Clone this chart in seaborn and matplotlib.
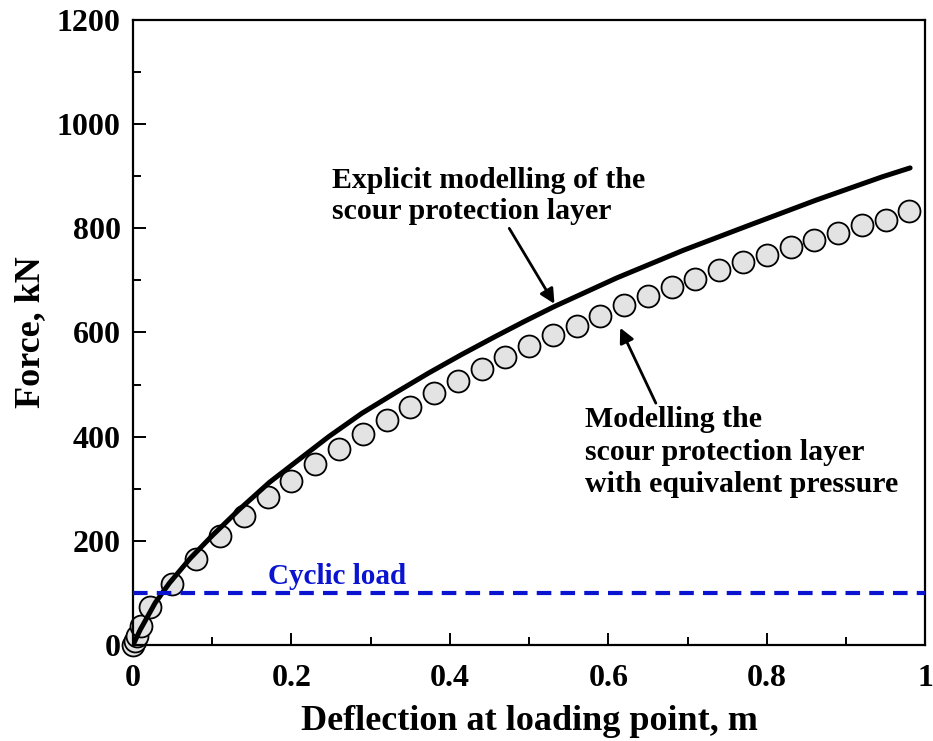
import matplotlib
matplotlib.use("Agg")
import matplotlib.pyplot as plt
import seaborn as sns
import pandas as pd

# Explicit modelling curve
explicit_x = [0, 0.009, 0.028, 0.046, 0.072, 0.10, 0.134, 0.172, 0.206, 0.247,
              0.289, 0.331, 0.373, 0.414, 0.457, 0.495, 0.532, 0.611, 0.695,
              0.778, 0.862, 0.946, 0.981]
explicit_y = [0, 29, 81, 119, 166, 210, 260, 312, 352, 400,
              445, 484, 522, 557, 592, 622, 650, 705, 758,
              806, 854, 899, 916]

# Equivalent pressure model (circles)
equiv_x = [0, 0.002, 0.005, 0.01, 0.022, 0.049, 0.079, 0.11, 0.14, 0.17,
           0.2, 0.23, 0.26, 0.29, 0.32, 0.35, 0.38, 0.41, 0.44, 0.47,
           0.5, 0.53, 0.56, 0.59, 0.62, 0.65, 0.68, 0.71, 0.74, 0.77,
           0.8, 0.83, 0.86, 0.89, 0.92, 0.95, 0.98]
equiv_y = [0, 8, 18, 36, 72, 118, 166, 209, 248, 285,
           315, 348, 376, 405, 432, 457, 484, 507, 530, 553,
           574, 595, 613, 632, 653, 670, 688, 703, 720, 735,
           749, 764, 778, 791, 806, 816, 833]

cyclic_x = [0, 1]
cyclic_y = [100, 100]

sns.set_style("ticks")
plt.rcParams['font.family'] = ['Liberation Serif', 'DejaVu Serif']
plt.rcParams['font.weight'] = 'bold'
plt.rcParams['text.color'] = 'black'
plt.rcParams['axes.labelcolor'] = 'black'
plt.rcParams['xtick.color'] = 'black'
plt.rcParams['ytick.color'] = 'black'
plt.rcParams['axes.edgecolor'] = 'black'

fig = plt.figure(figsize=(9.33, 7.41), dpi=100)
ax = fig.add_axes([0.1426, 0.1296, 0.849, 0.8434])

explicit = pd.DataFrame({'x': explicit_x, 'y': explicit_y})
equiv = pd.DataFrame({'x': equiv_x, 'y': equiv_y})
cyclic = pd.DataFrame({'x': cyclic_x, 'y': cyclic_y})

sns.scatterplot(data=equiv, x='x', y='y', ax=ax, s=250, color='#e3e3e3',
                edgecolor='black', linewidth=1.3, zorder=2, clip_on=False)
sns.lineplot(data=explicit, x='x', y='y', ax=ax, color='black', linewidth=3.6,
             zorder=3, estimator=None, sort=False)
sns.lineplot(data=cyclic, x='x', y='y', ax=ax, color='#0a14d0', linewidth=3,
             linestyle=(0, (3.5, 2.2)), zorder=3)

ax.text(0.17, 117, 'Cyclic load', color='#0a14d0', fontsize=21,
        fontweight='bold', ha='left', va='baseline')

ax.annotate('Explicit modelling of the\nscour protection layer',
            xy=(0.532, 655), xytext=(0.251, 918),
            fontsize=21.5, fontweight='bold', ha='left', va='top',
            linespacing=1.2,
            arrowprops=dict(arrowstyle='-|>', color='black', lw=2,
                            mutation_scale=22, shrinkA=0, shrinkB=0,
                            relpos=(0.56, 0.0)))
ax.annotate('Modelling the\nscour protection layer\nwith equivalent pressure',
            xy=(0.615, 609), xytext=(0.571, 458),
            fontsize=21.5, fontweight='bold', ha='left', va='top',
            linespacing=1.25,
            arrowprops=dict(arrowstyle='-|>', color='black', lw=2,
                            mutation_scale=22, shrinkA=0, shrinkB=0,
                            relpos=(0.23, 1.0)))

ax.set_xlim(0, 1)
ax.set_ylim(0, 1200)
ax.set_xticks([0, 0.2, 0.4, 0.6, 0.8, 1.0])
ax.set_xticklabels(['0', '0.2', '0.4', '0.6', '0.8', '1'])
ax.set_xticks([0.1, 0.3, 0.5, 0.7, 0.9], minor=True)
ax.set_yticks([0, 200, 400, 600, 800, 1000, 1200])
ax.set_yticks([100, 300, 500, 700, 900, 1100], minor=True)
ax.tick_params(which='major', direction='in', length=9, width=1.4,
               labelsize=23)
ax.tick_params(axis='y', which='major', pad=9)
ax.tick_params(axis='x', which='major', pad=14)
ax.tick_params(which='minor', direction='in', length=6, width=1.4)
for sp in ax.spines.values():
    sp.set_linewidth(1.6)

ax.set_xlabel('Deflection at loading point, m', fontsize=26, fontweight='bold',
              labelpad=8)
ax.set_ylabel('Force, kN', fontsize=26, fontweight='bold', labelpad=7)

fig.savefig('out.png', dpi=100)
plt.close(fig)
